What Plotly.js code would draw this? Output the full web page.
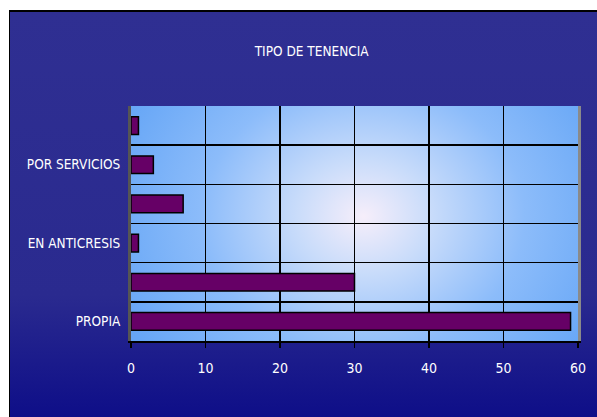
<!DOCTYPE html>
<html>
<head>
<meta charset="utf-8">
<script src="https://cdn.plot.ly/plotly-3.0.1.min.js"></script>
<style>
  html, body { margin: 0; padding: 0; background: #ffffff; }
  #frame {
    position: absolute; left: 9px; top: 10px; width: 588px; height: 407px;
    background: linear-gradient(to bottom, #2f2f92 0%, #2a2a8f 70%, #0e0e88 100%);
    border-top: 2px solid #000; border-left: 1px solid #000; box-sizing: border-box;
  }
  #chart { position: absolute; left: 0; top: 0; width: 597px; height: 417px; }
</style>
</head>
<body>
<div id="frame"></div>
<div id="chart"></div>
<script>
// Data (bottom to top)
const positions = [0, 1, 2, 3, 4, 5];
const values = [59, 30, 1, 7, 3, 1];
const labelPositions = [0, 2, 4];
const labelTexts = ["PROPIA", "EN ANTICRESIS", "POR SERVICIOS"];
const bandEdges = [-0.5, 0.5, 1.5, 2.5, 3.5, 4.5, 5.5];
const xTicks = [0, 10, 20, 30, 40, 50, 60];

const fontFamily = '"Liberation Sans Narrow", "Arial Narrow", "DejaVu Sans Condensed", sans-serif';

const bgSvg = '<svg xmlns="http://www.w3.org/2000/svg" width="400" height="200" preserveAspectRatio="none">' +
  '<defs><radialGradient id="g" cx="0.52" cy="0.47" r="0.6" gradientTransform="translate(0.52 0.47) scale(1 1.6) translate(-0.52 -0.47)">' +
  '<stop offset="0" stop-color="#f6eefa"/><stop offset="0.25" stop-color="#c9dcfa"/>' +
  '<stop offset="0.6" stop-color="#8cbcfa"/><stop offset="1" stop-color="#66a6f6"/></radialGradient></defs>' +
  '<rect width="400" height="200" fill="url(#g)"/></svg>';
const bgUri = 'data:image/svg+xml;base64,' + btoa(bgSvg);

const traces = [
  {
    type: 'bar', orientation: 'h',
    x: values, y: positions,
    marker: { color: '#660066', line: { color: '#000000', width: 1.5 } },
    width: 0.45,
    hoverinfo: 'x'
  },
  {
    type: 'scatter', mode: 'markers',
    x: [0], y: [0], yaxis: 'y2',
    marker: { opacity: 0 }, showlegend: false, hoverinfo: 'skip'
  }
];

const layout = {
  width: 597, height: 417,
  paper_bgcolor: 'rgba(0,0,0,0)',
  plot_bgcolor: 'rgba(0,0,0,0)',
  margin: { l: 131, r: 19, t: 106, b: 76 },
  showlegend: false,
  title: {
    text: 'TIPO DE TENENCIA',
    font: { family: fontFamily, size: 13.5, color: '#ffffff' },
    x: 0.522, xanchor: 'center', y: 0.878, yanchor: 'middle'
  },
  xaxis: {
    range: [0, 60], tickvals: xTicks, ticktext: xTicks.map(String),
    showgrid: true, gridcolor: '#000000', gridwidth: 1.5,
    zeroline: false, showline: true, linecolor: '#000000', linewidth: 2,
    ticks: 'outside', ticklen: 5, tickcolor: '#000000', tickwidth: 1.5,
    ticklabelstandoff: 8,
    tickfont: { family: fontFamily, size: 14, color: '#ffffff' },
    fixedrange: true
  },
  yaxis: {
    range: [-0.5, 5.5], tickvals: labelPositions, ticktext: labelTexts,
    showgrid: false, zeroline: false,
    showline: true, linecolor: '#555555', linewidth: 3,
    ticks: '', ticklabelstandoff: 5,
    tickfont: { family: fontFamily, size: 13.5, color: '#ffffff' },
    fixedrange: true
  },
  yaxis2: {
    overlaying: 'y', side: 'right',
    range: [-0.5, 5.5], tickvals: bandEdges,
    showticklabels: false, ticks: '',
    showgrid: true, gridcolor: '#000000', gridwidth: 1.5,
    zeroline: false, showline: true, linecolor: '#8a8a8a', linewidth: 3,
    fixedrange: true
  },
  images: [{
    source: bgUri, xref: 'paper', yref: 'paper',
    x: 0, y: 1, sizex: 1, sizey: 1, sizing: 'stretch',
    xanchor: 'left', yanchor: 'top', layer: 'below'
  }]
};

Plotly.newPlot('chart', traces, layout, { displayModeBar: false, staticPlot: true });
</script>
</body>
</html>
